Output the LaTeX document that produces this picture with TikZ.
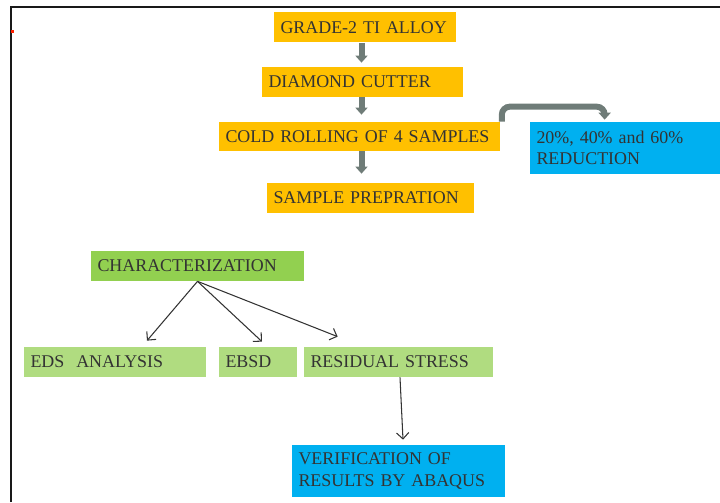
\documentclass[tikz,border=0pt]{standalone}
\usepackage{fontspec}
\setmainfont{Liberation Serif}
\usepackage{tikz}
\usetikzlibrary{arrows.meta,calc}

\definecolor{amber}{HTML}{FFC000}
\definecolor{skyblue}{HTML}{00B0F0}
\definecolor{leafgreen}{HTML}{92D050}
\definecolor{palegreen}{HTML}{B0DC80}
\definecolor{ink}{HTML}{333333}
\definecolor{pipegray}{HTML}{6F7C78}

\tikzset{
  stage/.style={fill=amber, text=ink, align=left, inner xsep=0.13cm, inner ysep=0pt,
                minimum height=0.6cm, font=\fontsize{10.2}{12}\selectfont},
  result/.style={stage, fill=skyblue, minimum height=1.04cm},
  group/.style={stage, fill=leafgreen},
  test/.style={stage, fill=palegreen},
  flow/.style={pipegray, line width=0.12cm, -{Triangle[width=0.24cm,length=0.14cm]}},
  link/.style={ink, line width=0.6pt, -{Straight Barb[length=3.5pt,width=7pt]}}
}

\begin{document}
\begin{tikzpicture}
    \useasboundingbox (0,0) rectangle (14.4,10.04);

    % page frame
    \draw[line width=0.05cm, black!90] (0.22,0) -- (0.22,9.9) -- (14.4,9.9);
    \fill[red!75!orange] (0.22,9.38) rectangle (0.27,9.44);

    % Processing steps
    \node[stage, text width=3.38cm] (alloy) at (7.30,9.49) {GRADE-2 TI ALLOY};
    \node[stage, text width=3.76cm] (cutter) at (7.25,8.40) {DIAMOND CUTTER};
    \node[stage, text width=5.36cm, minimum height=0.58cm] (rolling) at (7.19,7.31) {COLD ROLLING OF 4 SAMPLES};
    \node[stage, text width=3.88cm] (prep) at (7.41,6.08) {SAMPLE PREPRATION};
    \node[result, text width=3.54cm] (reduction) at (12.5,7.08) {20\%, 40\% and 60\%\\REDUCTION};

    % Arrows down the process
    \coordinate (spine) at (7.23,0);
    \draw[flow, shorten >=0.08cm] (alloy.south -| spine) -- (cutter.north -| spine);
    \draw[flow, shorten >=0.14cm] (cutter.south -| spine) -- (rolling.north -| spine);
    \draw[flow, shorten >=0.18cm] (rolling.south -| spine) -- (prep.north -| spine);
    \draw[flow, rounded corners=0.16cm] ([xshift=0.03cm]rolling.north east) -- ++(0,0.3)
        -| ([xshift=1.5cm,yshift=0.04cm]reduction.north west);

    % Characterization
    \node[group, text width=4.00cm] (charac) at (3.95,4.72) {CHARACTERIZATION};
    \node[test, text width=3.38cm] (eds) at (2.30,2.80) {EDS\ \ ANALYSIS};
    \node[test, text width=1.30cm] (ebsd) at (5.16,2.80) {EBSD};
    \node[test, text width=3.52cm] (resid) at (7.97,2.80) {RESIDUAL STRESS};
    \node[result, text width=4.00cm] (verify) at (7.97,0.62) {VERIFICATION OF\\RESULTS BY ABAQUS};

    \draw[link] (charac.south) -- ([xshift=0.64cm,yshift=0.12cm]eds.north);
    \draw[link] (charac.south) -- ([xshift=0.08cm,yshift=0.10cm]ebsd.north);
    \draw[link] (charac.south) -- ([xshift=0.68cm,yshift=0.20cm]resid.north west);
    \draw[link] ([xshift=0.03cm]resid.south) -- ([xshift=0.09cm,yshift=0.10cm]verify.north);
\end{tikzpicture}
\end{document}
